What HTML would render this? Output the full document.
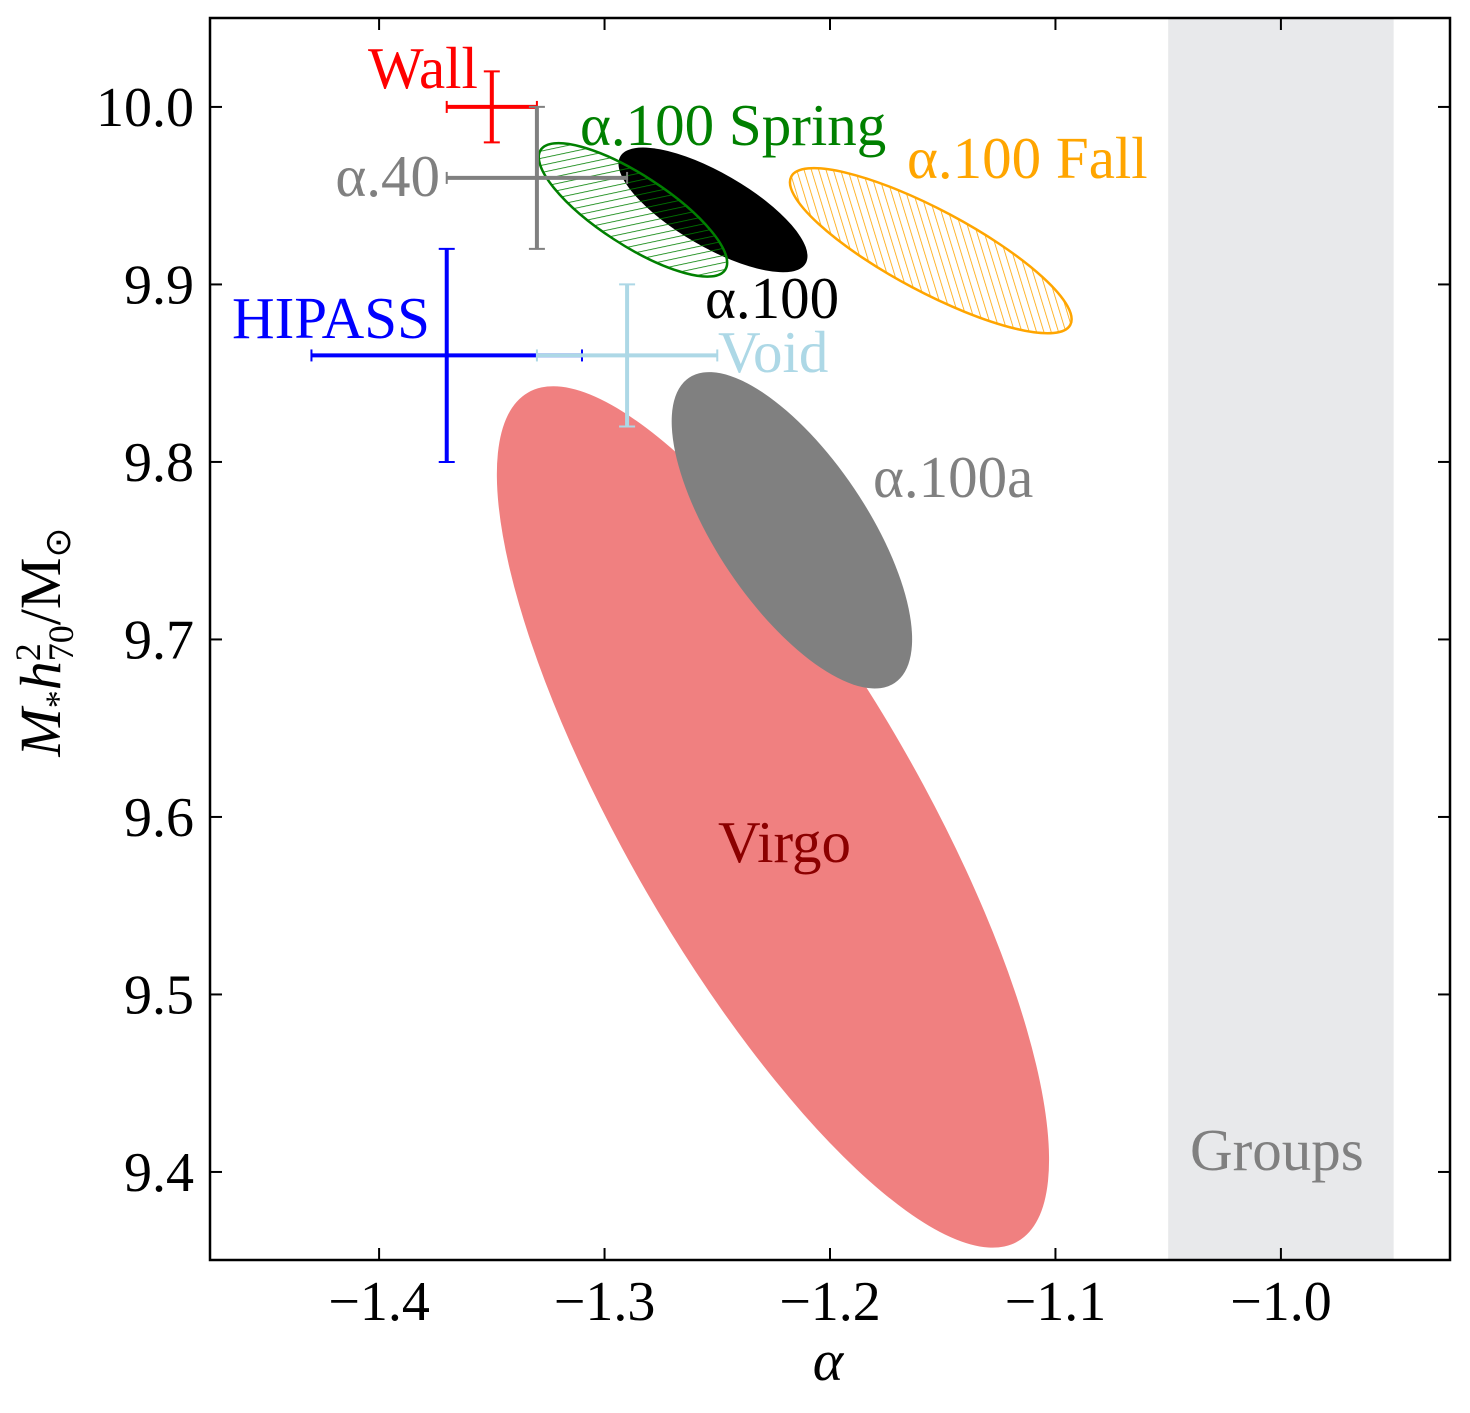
<!DOCTYPE html>
<html><head><meta charset="utf-8"><style>
html,body{margin:0;padding:0;background:#fff;}
svg{display:block;font-family:"Liberation Serif",serif;}
</style></head><body>
<svg id="chart" width="1470" height="1413" viewBox="0 0 1470 1413">
<defs>
<pattern id="hatchGreen" patternUnits="userSpaceOnUse" width="7" height="7" patternTransform="rotate(45)">
<line x1="0" y1="0" x2="0" y2="7" stroke="green" stroke-width="1.6"/></pattern>
<pattern id="hatchOrange" patternUnits="userSpaceOnUse" width="7" height="7" patternTransform="rotate(-45)">
<line x1="0" y1="0" x2="0" y2="7" stroke="orange" stroke-width="1.6"/></pattern>
<clipPath id="plotClip"><rect x="210" y="18" width="1240" height="1242"/></clipPath>
</defs>
<g id="plot" clip-path="url(#plotClip)"></g>
<g id="axes"></g>
</svg>
<script>
const xTicks=[-1.4,-1.3,-1.2,-1.1,-1.0];
const xTickLabels=["\u22121.4","\u22121.3","\u22121.2","\u22121.1","\u22121.0"];
const yTicks=[9.4,9.5,9.6,9.7,9.8,9.9,10.0];
const yTickLabels=["9.4","9.5","9.6","9.7","9.8","9.9","10.0"];
// ellipses: name, center alpha, center M*, semi-major, semi-minor (px), angle deg
const ellNames=["virgo","alpha100a","alpha100","alpha100-spring","alpha100-fall"];
const ellAlpha=[-1.2253,-1.2169,-1.2519,-1.2874,-1.1553];
const ellMass=[9.60,9.7615,9.942,9.942,9.919];
const ellA=[490,184,107,110,158];
const ellB=[147,75,37,35,41];
const ellAngle=[60,56,30,33,28];
const ellFill=["#f08080","#808080","#000","url(#hatchGreen)","url(#hatchOrange)"];
const ellStroke=["none","none","none","green","orange"];
// error bars
const ebNames=["wall","alpha40","hipass","void"];
const ebAlpha=[-1.35,-1.33,-1.37,-1.29];
const ebMass=[10.0,9.96,9.86,9.86];
const ebXerr=[0.02,0.04,0.06,0.04];
const ebYerr=[0.02,0.04,0.06,0.04];
const ebColor=["red","gray","blue","lightblue"];

const X0=210,X1=1450,Y0=18,Y1=1260;
const xmin=-1.475,xmax=-0.925,ymin=9.3504,ymax=10.0501;
const sx=v=>X0+(v-xmin)/(xmax-xmin)*(X1-X0);
const sy=v=>Y1-(v-ymin)/(ymax-ymin)*(Y1-Y0);
const NS="http://www.w3.org/2000/svg";
function mk(tag,attrs,parent,text){const e=document.createElementNS(NS,tag);for(const k in attrs)e.setAttribute(k,attrs[k]);if(text!==undefined)e.textContent=text;parent.appendChild(e);return e;}
const plot=document.getElementById('plot'),axes=document.getElementById('axes');

const band=mk('rect',{x:sx(-1.05),y:Y0,width:sx(-0.95)-sx(-1.05),height:Y1-Y0,fill:'#e8e9eb'},plot);



for(let i=0;i<ellNames.length;i++){
  const e=mk('ellipse',{cx:0,cy:0,rx:ellA[i],ry:ellB[i],fill:ellFill[i],stroke:ellStroke[i],'stroke-width':2.5,
    transform:`translate(${sx(ellAlpha[i])},${sy(ellMass[i])}) rotate(${ellAngle[i]})`},plot);
  
  
}
for(let i=0;i<ebNames.length;i++){
  const g=mk('g',{stroke:ebColor[i],'stroke-width':4},plot);
  
  
  const cx=sx(ebAlpha[i]),cy=sy(ebMass[i]),xl=sx(ebAlpha[i]-ebXerr[i]),xr=sx(ebAlpha[i]+ebXerr[i]),yt=sy(ebMass[i]+ebYerr[i]),yb=sy(ebMass[i]-ebYerr[i]);
  mk('line',{x1:xl,y1:cy,x2:xr,y2:cy},g);
  mk('line',{x1:cx,y1:yt,x2:cx,y2:yb},g);
  mk('line',{x1:xl,y1:cy-6,x2:xl,y2:cy+6,'stroke-width':2},g);
  mk('line',{x1:xr,y1:cy-6,x2:xr,y2:cy+6,'stroke-width':2},g);
  mk('line',{x1:cx-8,y1:yt,x2:cx+8,y2:yt,'stroke-width':2},g);
  mk('line',{x1:cx-8,y1:yb,x2:cx+8,y2:yb,'stroke-width':2},g);
}
const labels=[["label-wall","Wall",368,88,"red","start"],["label-alpha100-spring","\u03b1.100 Spring",580,145,"green","start"],
["label-alpha40","\u03b1.40",440,196,"gray","end"],["label-alpha100-fall","\u03b1.100 Fall",907,178,"orange","start"],
["label-hipass","HIPASS",232,338,"blue","start"],["label-alpha100","\u03b1.100",705,318,"black","start"],
["label-void","Void",718,372,"lightblue","start"],["label-alpha100a","\u03b1.100a",873,497,"gray","start"],
["label-virgo","Virgo",718,862,"darkred","start"],["label-groups","Groups",1190,1170,"gray","start"]];
labels.forEach(l=>{const t=mk('text',{x:l[2],y:l[3],fill:l[4],'font-size':59,'text-anchor':l[5]},plot,l[1]);
  
  });

const frame=mk('rect',{x:X0,y:Y0,width:X1-X0,height:Y1-Y0,fill:'none',stroke:'#000','stroke-width':2.5},axes);


xTicks.forEach((v,i)=>{const x=sx(v);
  mk('line',{x1:x,y1:Y1,x2:x,y2:Y1-12,stroke:'#000','stroke-width':2},axes);
  mk('line',{x1:x,y1:Y0,x2:x,y2:Y0+12,stroke:'#000','stroke-width':2},axes);
  const t=mk('text',{x:x,y:Y1+60,'font-size':56,'text-anchor':'middle'},axes,xTickLabels[i]);
  
  });
yTicks.forEach((v,i)=>{const y=sy(v);
  mk('line',{x1:X0,y1:y,x2:X0+12,y2:y,stroke:'#000','stroke-width':2},axes);
  mk('line',{x1:X1,y1:y,x2:X1-12,y2:y,stroke:'#000','stroke-width':2},axes);
  const t=mk('text',{x:X0-16,y:y+19,'font-size':56,'text-anchor':'end'},axes,yTickLabels[i]);
  
  });
</script>
<svg style="position:absolute;left:0;top:0" width="1470" height="1413">
<text x="828" y="1380" font-size="58" font-style="italic" text-anchor="middle" font-family="Liberation Serif, serif">α</text>
<text transform="translate(60,642) rotate(-90)" font-size="58" text-anchor="middle" font-family="Liberation Serif, serif"><tspan font-style="italic">M</tspan><tspan font-size="36" dy="10">*</tspan><tspan font-style="italic" dy="-10">h</tspan><tspan font-size="36" dy="-20">2</tspan><tspan font-size="36" dx="-18" dy="33">70</tspan><tspan dy="-13">/M</tspan><tspan font-size="36" dy="10">⊙</tspan></text>
</svg>
</body></html>
